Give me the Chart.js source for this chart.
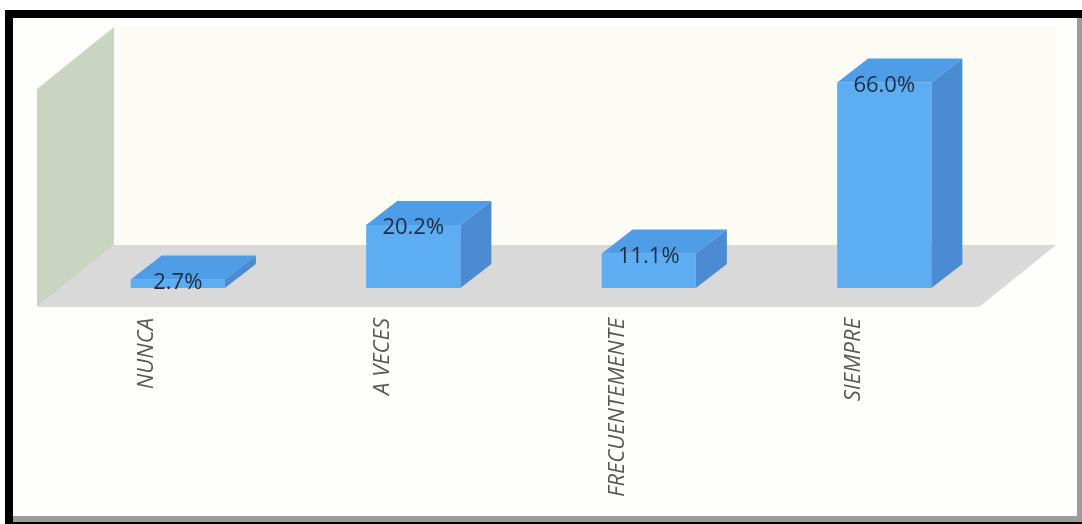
<!DOCTYPE html>
<html lang="es">
<head>
<meta charset="utf-8">
<title>Frecuencia</title>
<script src="https://cdn.jsdelivr.net/npm/chart.js@4.4.0/dist/chart.umd.min.js"></script>
<style>
    html, body { margin: 0; padding: 0; background: #ffffff; }
    #grafico { display: block; }
</style>
</head>
<body>
<canvas id="grafico" width="1082" height="524"></canvas>
<script>
const categorias = ['NUNCA', 'A VECES', 'FRECUENTEMENTE', 'SIEMPRE'];
const porcentajes = [2.7, 20.2, 11.1, 66.0];

// Profundidad del piso y de las barras (efecto 3D)
const piso = { frente: [-23, 19], fondo: [54, -43] };
const fondoBarra = [31, -24];

function poligono(ctx, puntos, color) {
    ctx.beginPath();
    ctx.moveTo(puntos[0][0], puntos[0][1]);
    for (let i = 1; i < puntos.length; i++) ctx.lineTo(puntos[i][0], puntos[i][1]);
    ctx.closePath();
    ctx.fillStyle = color;
    ctx.fill();
}

const efecto3d = {
    id: 'efecto3d',
    beforeDraw(chart) {
        const ctx = chart.ctx;
        const a = chart.chartArea;
        ctx.save();
        // marco negro con sombra gris
        ctx.fillStyle = '#000000';
        ctx.fillRect(5, 10, 1077, 514);
        ctx.fillStyle = '#9c9c9c';
        ctx.fillRect(13, 18, 1069, 504);
        ctx.fillStyle = '#fefefc';
        ctx.fillRect(13, 18, 1064, 498);
        // fondo del área de trazado, levemente crema
        ctx.fillStyle = '#fcfcf5';
        ctx.fillRect(a.left + piso.fondo[0], a.top + piso.fondo[1], a.right - a.left, a.bottom - a.top);
        ctx.restore();
    },
    beforeDatasetsDraw(chart) {
        const ctx = chart.ctx;
        const a = chart.chartArea;
        const [fx, fy] = piso.frente;
        const [bx, by] = piso.fondo;
        ctx.save();
        // piso
        poligono(ctx, [
            [a.left + fx, a.bottom + fy], [a.right + fx, a.bottom + fy],
            [a.right + bx, a.bottom + by], [a.left + bx, a.bottom + by]
        ], '#d9d9d9');
        // pared lateral
        poligono(ctx, [
            [a.left + fx, a.bottom + fy], [a.left + fx, a.top + fy],
            [a.left + bx, a.top + by], [a.left + bx, a.bottom + by]
        ], '#c9d5c1');
        ctx.restore();
    },
    afterDatasetsDraw(chart) {
        const ctx = chart.ctx;
        const meta = chart.getDatasetMeta(0);
        const [dx, dy] = fondoBarra;
        ctx.save();
        meta.data.forEach((barra, i) => {
            const { x, y, base, width } = barra.getProps(['x', 'y', 'base', 'width'], true);
            const izq = x - width / 2, der = x + width / 2;
            // cara superior
            poligono(ctx, [[izq, y], [der, y], [der + dx, y + dy], [izq + dx, y + dy]], '#4f9de6');
            // cara lateral
            poligono(ctx, [[der, y], [der, base], [der + dx, base + dy], [der + dx, y + dy]], '#4a8bd2');

            ctx.fillStyle = '#1d2b45';
            ctx.font = '22px "Open Sans"';
            ctx.textAlign = 'center';
            ctx.textBaseline = 'middle';
            ctx.fillText(porcentajes[i].toFixed(1) + '%', x, y + 3);
        });
        ctx.restore();
    }
};

window.onload = function() {
    const ctx = document.getElementById('grafico').getContext('2d');
    new Chart(ctx, {
        type: 'bar',
        data: {
            labels: categorias,
            datasets: [{
                data: porcentajes,
                backgroundColor: '#5cadf2',
                borderWidth: 0,
                categoryPercentage: 1,
                barPercentage: 0.4
            }]
        },
        options: {
            responsive: false,
            animation: false,
            layout: { padding: { left: 60, right: 80, top: 70, bottom: 20 } },
            plugins: {
                legend: { display: false },
                tooltip: { enabled: false }
            },
            scales: {
                y: { display: false, min: 0, max: 70 },
                x: {
                    grid: { display: false, drawTicks: false },
                    border: { display: false },
                    afterFit: scale => { scale.height = 216; },
                    ticks: {
                        maxRotation: 90,
                        minRotation: 90,
                        padding: 30,
                        labelOffset: -31,
                        color: '#595959',
                        font: { family: 'Open Sans', size: 22, style: 'italic' }
                    }
                }
            }
        },
        plugins: [efecto3d]
    });
};
</script>
</body>
</html>
